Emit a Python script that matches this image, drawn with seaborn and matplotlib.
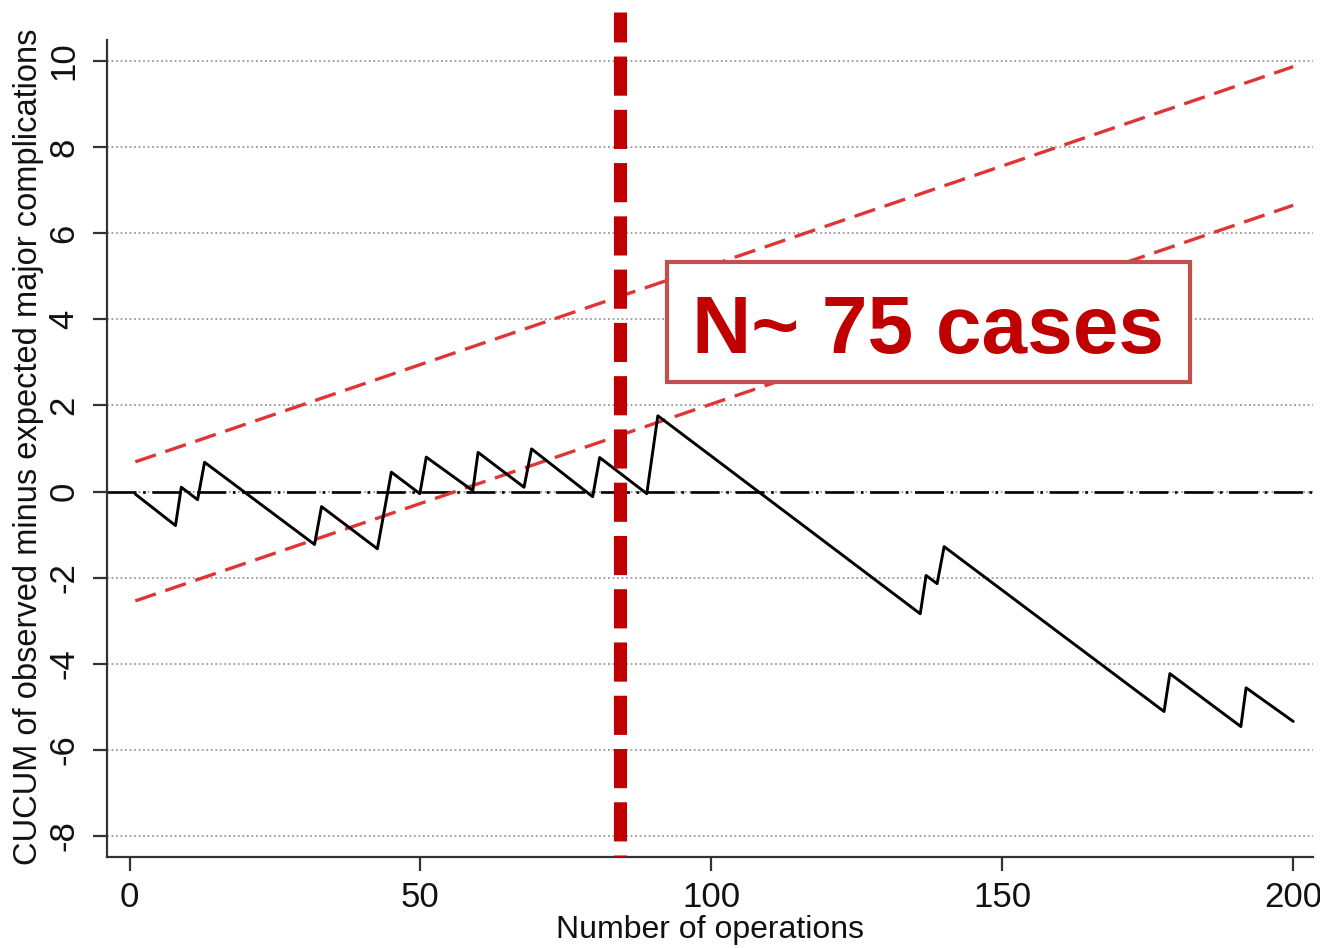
import matplotlib
matplotlib.use("Agg")
import matplotlib.pyplot as plt
import seaborn as sns
import numpy as np
from matplotlib.patches import Rectangle

# ---- data ----
cusum_x = [1, 7.9, 8.9, 11.7, 12.9, 31.8, 33, 42.6, 45, 49.9, 51, 59, 59.9, 67.8,
           69.1, 79.6, 80.8, 88.9, 90.8, 135.9, 136.9, 138.8, 140, 177.8, 178.8,
           191, 191.9, 200]
cusum_y = [-0.06, -0.79, 0.1, -0.19, 0.68, -1.23, -0.35, -1.33, 0.45, -0.05, 0.8,
           0.02, 0.91, 0.1, 0.99, -0.12, 0.79, -0.05, 1.76, -2.84, -1.95, -2.14,
           -1.28, -5.11, -4.23, -5.46, -4.56, -5.34]
limit_x = [1, 200]
upper_limit = [0.69, 9.87]
lower_limit = [-2.54, 6.65]
learning_point = 84.3
x_ticks = [0, 50, 100, 150, 200]
y_ticks = [-8, -6, -4, -2, 0, 2, 4, 6, 8, 10]
x_label = "Number of operations"
y_label = "CUCUM of observed minus expected major complications"
box_text = "N~ 75 cases"

sns.set_theme(style="white")
plt.rcParams['font.family'] = ['Liberation Sans', 'DejaVu Sans']
plt.rcParams['axes.unicode_minus'] = False

fig = plt.figure(figsize=(13.2, 9.48), dpi=100)
ax = fig.add_axes([107/1320, 1 - 857/948, (1313-107)/1320, (857-12)/948])

ax.set_xlim(-3.87, 203.4)
ax.set_ylim(-8.49, 11.14)

# dotted grid lines
for yv in y_ticks:
    ax.axhline(yv, color="#9a9a9a", lw=1.3, ls=(0, (1, 1.5)), zorder=1)

# zero reference dash-dot line
ax.axhline(0, color="black", lw=1.9, ls=(0, (11, 2.5, 1.0, 2.5)), zorder=2)

# control limits
sns.lineplot(x=limit_x, y=upper_limit, ax=ax, color="#e03535", lw=2.4,
             linestyle=(0, (6.5, 3.0)), zorder=3, estimator=None)
sns.lineplot(x=limit_x, y=lower_limit, ax=ax, color="#e03535", lw=2.4,
             linestyle=(0, (6.5, 3.0)), zorder=3, estimator=None)

# CUSUM
sns.lineplot(x=cusum_x, y=cusum_y, ax=ax, color="black", lw=2.1, zorder=4,
             estimator=None, sort=False)

# vertical learning point line
ax.axvline(learning_point, color="#c00000", lw=9.4,
           ls=(2.85, (3.0, 1.08)), dash_capstyle="butt", zorder=5)

# spines and ticks
for s in ["top", "right"]:
    ax.spines[s].set_visible(False)
for s in ["left", "bottom"]:
    ax.spines[s].set_color("#333333")
    ax.spines[s].set_linewidth(1.6)
ax.spines["left"].set_bounds(-8.49, 10.5)

ax.set_xticks(x_ticks)
ax.set_yticks(y_ticks)
ax.tick_params(axis="both", which="major", direction="out", length=10, width=1.6,
               color="#333333", labelsize=25, labelcolor="#111111", pad=7,
               left=True, bottom=True)
ax.tick_params(axis="y", labelrotation=90, pad=9)
for lab in ax.get_yticklabels():
    lab.set_va("center")
    lab.set_ha("right")

ax.set_xlabel(x_label, fontsize=23, color="#111111", labelpad=1)
ax.set_ylabel(y_label, fontsize=23.5, color="#111111")
ax.yaxis.set_label_coords(-0.052, 0.485)

# annotation box
rect = Rectangle((667/1320, 1 - 382/948), 523/1320, 120/948,
                 transform=fig.transFigure, facecolor="white",
                 edgecolor="#c0504d", lw=3, zorder=10, clip_on=False)
fig.patches.append(rect)
fig.text(928/1320, 1 - 353/948, box_text, ha="center", va="baseline",
         fontsize=59, fontweight="bold", color="#c00000", zorder=11)

fig.savefig("out.png", dpi=100)
